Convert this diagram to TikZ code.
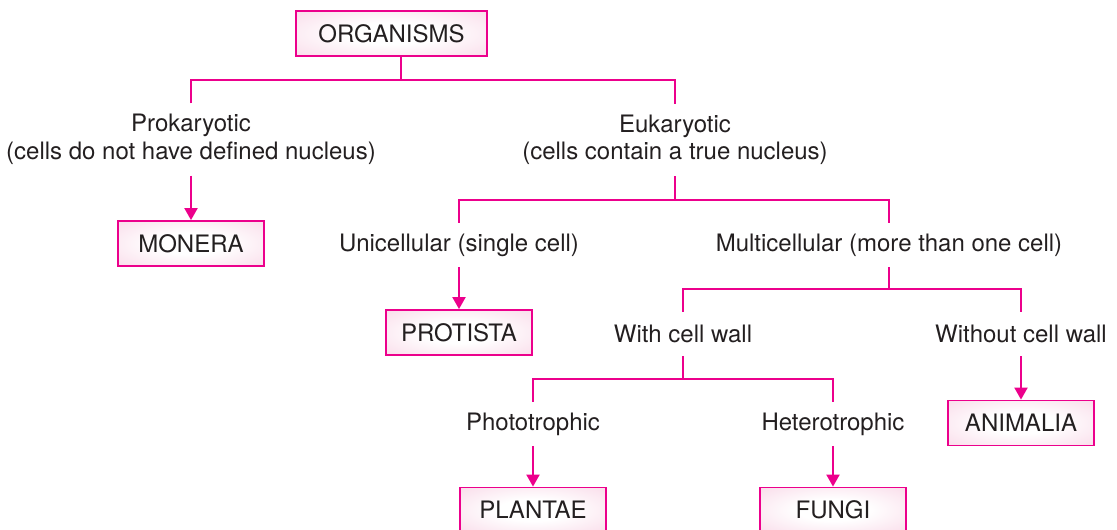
\documentclass[tikz,border=0pt]{standalone}
\usepackage{fontspec}
\setmainfont{TeX Gyre Heros}
\usetikzlibrary{arrows.meta}
\definecolor{mag}{HTML}{EC008C}
\definecolor{boxpink}{HTML}{F6C9DE}
\definecolor{ink}{HTML}{231F20}
\pgfdeclareradialshading{boxshade}{\pgfpoint{0bp}{0bp}}{color(0bp)=(white); color(12bp)=(white); color(50bp)=(boxpink); color(100bp)=(boxpink)}
\tikzset{
  link/.style={draw=mag, line width=2pt},
  arr/.style={link, -{Triangle[width=13pt,length=12pt]}},
  kingdom/.style={draw=mag, line width=1.8pt, shading=boxshade,
    minimum width=146pt, minimum height=45pt, inner sep=0pt, text=ink},
  lbl/.style={inner sep=0pt, minimum height=44pt, text=ink},
  lbltwo/.style={inner sep=0pt, minimum height=72pt, text=ink, align=center},
}
\begin{document}
\begin{tikzpicture}[x=1pt,y=-1pt, font=\fontsize{24}{27.5}\selectfont]
\useasboundingbox (0,0) rectangle (1117,530);
% nodes
\node[kingdom, minimum width=191pt] (org) at (391.5,33.5) {ORGANISMS};
\node[lbltwo] (prok) at (191,139.5) {Prokaryotic\\(cells do not have defined nucleus)};
\node[lbltwo] (euk) at (675,140) {Eukaryotic\\(cells contain a true nucleus)};
\node[kingdom] (monera) at (191,243.5) {MONERA};
\node[lbl] (uni) at (459,245) {Unicellular (single cell)};
\node[lbl] (multi) at (889,245) {Multicellular (more than one cell)};
\node[kingdom] (protista) at (459,332.5) {PROTISTA};
\node[lbl] (withcw) at (683,334) {With cell wall};
\node[lbl] (without) at (1021,334) {Without cell wall};
\node[lbl] (photo) at (533,424) {Phototrophic};
\node[lbl] (hetero) at (833,424) {Heterotrophic};
\node[kingdom] (animalia) at (1021,423) {ANIMALIA};
\node[kingdom] (plantae) at (533,510) {PLANTAE};
\node[kingdom] (fungi) at (833,510) {FUNGI};
% junctions
\coordinate (j1) at (401,80);
\draw[link] ([xshift=9.5pt]org.south) -- (j1);
\draw[link] (prok.north) |- (j1) -| (euk.north);
\draw[link] (euk.south) -- ++(0,24) coordinate (j2);
\draw[link] (uni.north) |- (j2) -| (multi.north);
\draw[link] (multi.south) -- ++(0,22) coordinate (j3);
\draw[link] (withcw.north) |- (j3) -| (without.north);
\draw[link] (withcw.south) -- ++(0,23) coordinate (j4);
\draw[link] (photo.north) |- (j4) -| (hetero.north);
% arrows
\draw[arr] (prok.south) -- (monera.north);
\draw[arr] (uni.south) -- (protista.north);
\draw[arr] (without.south) -- (animalia.north);
\draw[arr] (photo.south) -- (plantae.north);
\draw[arr] (hetero.south) -- (fungi.north);
\end{tikzpicture}
\end{document}
